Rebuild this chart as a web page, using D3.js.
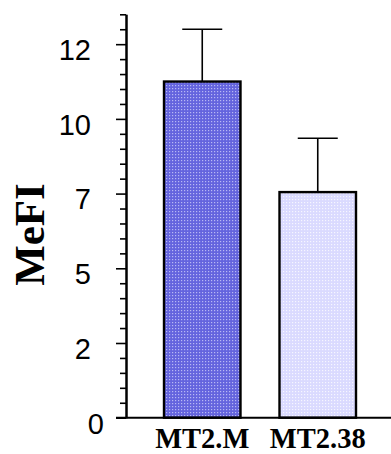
<!DOCTYPE html>
<html>
<head>
<meta charset="utf-8">
<script src="https://cdn.jsdelivr.net/npm/d3@7"></script>
<style>
  html, body { margin: 0; padding: 0; background: #fff; }
  svg { display: block; }
</style>
</head>
<body>
<svg id="chart" width="391" height="454"></svg>
<script>
// Mean fluorescence intensity per construct, with error (SD)
const categories = ["MT2.M", "MT2.38"];
const means = [11.25, 7.55];
const errors = [1.75, 1.8];
const majorTicks = [0, 2.5, 5, 7.5, 10, 12.5];
const tickLabels = ["0", "2", "5", "7", "10", "12"];
const fills = ["url(#dotsDark)", "url(#dotsLight)"];

const svg = d3.select("#chart");
const W = 391, H = 454;
const axisX = 126, baseY = 417.7, topY = 14.3;

// dotted fills for the bars
const defs = svg.append("defs");
function dotPattern(id, base, dot) {
  const p = defs.append("pattern").attr("id", id)
    .attr("patternUnits", "userSpaceOnUse")
    .attr("width", 3).attr("height", 3);
  p.append("rect").attr("width", 3).attr("height", 3).attr("fill", base);
  p.append("rect").attr("x", 1).attr("y", 1).attr("width", 1.2).attr("height", 1.2).attr("fill", dot);
}
dotPattern("dotsDark", "#6464de", "#b8b8f4");
dotPattern("dotsLight", "#dadaff", "#f6f6ff");

const y = d3.scaleLinear().domain([0, 13.5]).range([baseY, topY]);
const x = d3.scaleBand().domain(categories).range([164, 356])
  .paddingInner(0.3377).paddingOuter(0);

// bars
svg.append("g").selectAll("rect").data(categories).join("rect")
  .attr("x", d => x(d))
  .attr("y", (d, i) => y(means[i]))
  .attr("width", x.bandwidth())
  .attr("height", (d, i) => y(0) - y(means[i]))
  .attr("fill", (d, i) => fills[i])
  .attr("stroke", "#000")
  .attr("stroke-width", 2.4);

// error bars (upper only)
const eb = svg.append("g").attr("stroke", "#000").attr("stroke-width", 1.6);
categories.forEach((c, i) => {
  const cx = x(c) + x.bandwidth() / 2;
  eb.append("line").attr("x1", cx).attr("x2", cx)
    .attr("y1", y(means[i])).attr("y2", y(means[i] + errors[i]));
  eb.append("line").attr("x1", cx - 20).attr("x2", cx + 20)
    .attr("y1", y(means[i] + errors[i])).attr("y2", y(means[i] + errors[i]));
});

// x baseline
svg.append("line")
  .attr("x1", 116).attr("x2", W)
  .attr("y1", baseY).attr("y2", baseY)
  .attr("stroke", "#000").attr("stroke-width", 2);

// minor ticks
const minorTicks = d3.range(0, 13.51, 0.5).filter(v => !majorTicks.some(m => Math.abs(m - v) < 1e-6));
svg.append("g").attr("transform", `translate(${axisX},0)`)
  .call(d3.axisLeft(y).tickValues(minorTicks).tickSize(6).tickSizeOuter(0).tickFormat(""))
  .call(g => g.select(".domain").attr("stroke-width", 2))
  .call(g => g.selectAll(".tick line").attr("stroke-width", 1.6));

// major ticks with labels
const yAxis = svg.append("g").attr("transform", `translate(${axisX},0)`)
  .call(d3.axisLeft(y).tickValues(majorTicks).tickSize(10).tickSizeOuter(0)
    .tickPadding(25).tickFormat((d, i) => tickLabels[i]));
yAxis.select(".domain").attr("stroke-width", 2);
yAxis.selectAll(".tick line").attr("stroke-width", 1.6);
yAxis.selectAll(".tick text")
  .attr("font-family", "'Liberation Sans', Arial, sans-serif")
  .attr("font-size", 29)
  .attr("fill", "#000")
  .attr("dy", "0.53em")
  .attr("dx", (d) => d === 0 ? 13 : 0);

// category labels
svg.append("g").selectAll("text").data(categories).join("text")
  .attr("x", d => x(d) + x.bandwidth() / 2)
  .attr("y", 447.8)
  .attr("text-anchor", "middle")
  .attr("font-family", "'Liberation Serif', 'Times New Roman', serif")
  .attr("font-weight", "bold")
  .attr("font-size", 28.5)
  .text(d => d);

// y title
svg.append("text")
  .attr("transform", "translate(44,234.5) rotate(-90)")
  .attr("text-anchor", "middle")
  .attr("font-family", "'Liberation Serif', 'Times New Roman', serif")
  .attr("font-weight", "bold")
  .attr("font-size", 43)
  .text("MeFI");
</script>
</body>
</html>
